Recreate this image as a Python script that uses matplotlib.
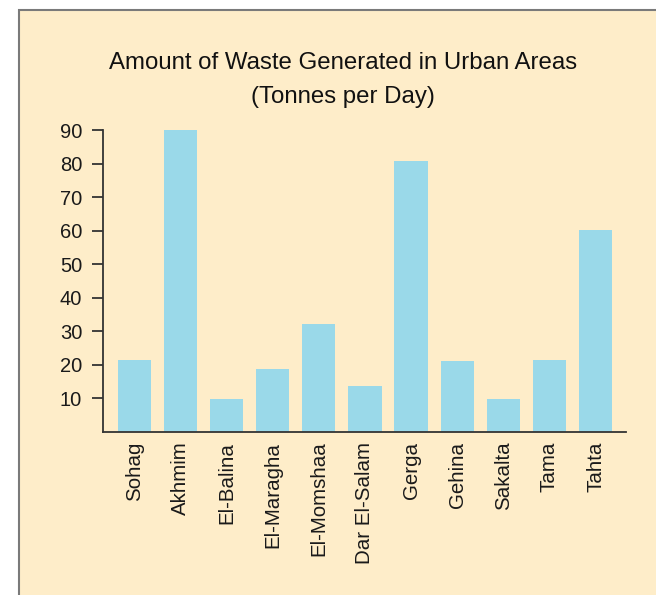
import matplotlib.pyplot as plt
from matplotlib.patches import Rectangle

plt.rcParams['font.family'] = ['Liberation Sans', 'DejaVu Sans']

towns = ["Sohag", "Akhmim", "El-Balina", "El-Maragha", "El-Momshaa",
         "Dar El-Salam", "Gerga", "Gehina", "Sakalta", "Tama", "Tahta"]
waste = [21.5, 90, 9.9, 18.8, 32.3, 13.6, 80.8, 21.2, 9.9, 21.5, 60.3]
yticks = [10, 20, 30, 40, 50, 60, 70, 80, 90]

W, H = 656, 595
fig = plt.figure(figsize=(W / 100, H / 100), dpi=100)
fig.patch.set_facecolor("white")

# cream panel with grey border (runs off the right/bottom edge)
fig.patches.append(Rectangle((19 / W, -0.05), 1.2, 1 - 10 / H + 0.05,
                             transform=fig.transFigure, facecolor="#FEEDC9",
                             edgecolor="#7a7a7a", linewidth=1.5, zorder=-5))

ax = fig.add_axes([103 / W, 1 - 432 / H, (626 - 103) / W, (432 - 130) / H])
ax.set_zorder(2)
ax.set_facecolor("none")
ax.bar(range(len(towns)), waste, width=0.72, color="#9AD9E9", zorder=1)

ax.set_xlim(-0.68, 10.66)
ax.set_ylim(0, 90)
ax.set_yticks(yticks)
ax.set_xticks(range(len(towns)))
ax.set_xticklabels(towns, rotation=90, va="top")
for s in ["top", "right"]:
    ax.spines[s].set_visible(False)
for s in ["left", "bottom"]:
    ax.spines[s].set_color("#333333")
    ax.spines[s].set_linewidth(1.3)
    ax.spines[s].set_zorder(3)
ax.tick_params(axis="y", length=8, width=1.3, color="#333333", labelsize=14.5,
               pad=7, labelcolor="#1a1a1a")
ax.tick_params(axis="x", length=0, labelsize=14.8, pad=7, labelcolor="#1a1a1a")

fig.text(343 / W, 1 - 63 / H, "Amount of Waste Generated in Urban Areas",
         ha="center", va="center", fontsize=17.3, color="#111111", zorder=3)
fig.text(343 / W, 1 - 97 / H, "(Tonnes per Day)",
         ha="center", va="center", fontsize=17.3, color="#111111", zorder=3)

fig.savefig("out.png", dpi=100)
